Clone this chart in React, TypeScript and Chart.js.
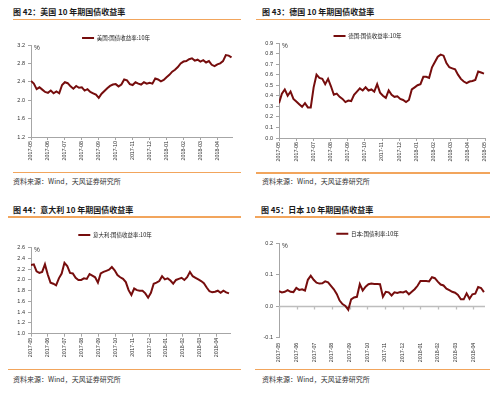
import React, { useEffect, useRef } from 'react';
import { Chart, registerables } from 'chart.js';

Chart.register(...registerables);

// ---------- DATA ----------
const MONTHS = [
  '2017-05', '2017-06', '2017-07', '2017-08', '2017-09', '2017-10', '2017-11',
  '2017-12', '2018-01', '2018-02', '2018-03', '2018-04', '2018-05',
];

// US 10Y treasury yield (%), sampled evenly from 2017-05 to late 2018-04
const US_YIELD = [
  2.42, 2.36, 2.24, 2.28, 2.23, 2.18, 2.16, 2.21, 2.15, 2.19,
  2.15, 2.33, 2.39, 2.37, 2.30, 2.25, 2.31, 2.27, 2.28, 2.21,
  2.24, 2.18, 2.15, 2.12, 2.05, 2.14, 2.20, 2.26, 2.31, 2.34,
  2.35, 2.30, 2.34, 2.45, 2.43, 2.35, 2.33, 2.39, 2.36, 2.34,
  2.39, 2.36, 2.38, 2.36, 2.47, 2.45, 2.41, 2.44, 2.50, 2.55,
  2.62, 2.66, 2.72, 2.80, 2.84, 2.85, 2.89, 2.91, 2.86, 2.88,
  2.84, 2.87, 2.82, 2.85, 2.77, 2.74, 2.78, 2.80, 2.85, 2.98,
  2.97, 2.93,
];

// Germany 10Y bund yield (%)
const DE_YIELD = [
  0.33, 0.42, 0.46, 0.40, 0.44, 0.37, 0.345, 0.32, 0.295, 0.33,
  0.29, 0.29, 0.48, 0.60, 0.57, 0.56, 0.51, 0.56, 0.49, 0.41,
  0.42, 0.39, 0.37, 0.34, 0.355, 0.35, 0.41, 0.44, 0.47, 0.45,
  0.48, 0.45, 0.46, 0.44, 0.51, 0.43, 0.40, 0.38, 0.45, 0.41,
  0.39, 0.395, 0.37, 0.36, 0.34, 0.36, 0.46, 0.48, 0.50, 0.51,
  0.58, 0.58, 0.57, 0.67, 0.72, 0.77, 0.79, 0.78, 0.71, 0.67,
  0.66, 0.65, 0.60, 0.56, 0.535, 0.52, 0.535, 0.54, 0.55, 0.63,
  0.62, 0.61,
];

// Italy 10Y BTP yield (%)
const IT_YIELD = [
  2.28, 2.29, 2.16, 2.13, 2.15, 2.29, 2.10, 1.95, 1.93, 1.90,
  2.03, 2.12, 2.32, 2.26, 2.13, 2.12, 2.04, 2.00, 2.00, 2.03,
  2.02, 2.11, 2.08, 2.05, 1.95, 2.12, 2.15, 2.17, 2.19, 2.24,
  2.18, 2.09, 2.05, 2.02, 1.96, 1.81, 1.72, 1.84, 1.81, 1.80,
  1.80, 1.75, 1.67, 1.76, 1.93, 1.95, 1.98, 2.07, 2.01, 2.03,
  1.99, 1.93, 2.00, 2.02, 2.04, 2.00, 2.05, 2.15, 2.07, 2.04,
  2.01, 1.98, 1.94, 1.86, 1.79, 1.77, 1.78, 1.80, 1.76, 1.80,
  1.77, 1.75,
];

// Japan 10Y JGB yield (%)
const JP_YIELD = [
  0.048, 0.044, 0.046, 0.051, 0.046, 0.045, 0.058, 0.052, 0.054, 0.050,
  0.084, 0.097, 0.084, 0.075, 0.072, 0.073, 0.079, 0.076, 0.065, 0.054,
  0.039, 0.018, 0.007, 0.001, -0.011, 0.022, 0.028, 0.030, 0.070, 0.050,
  0.062, 0.070, 0.072, 0.071, 0.071, 0.070, 0.030, 0.046, 0.044, 0.034,
  0.044, 0.042, 0.045, 0.044, 0.048, 0.038, 0.046, 0.054, 0.065, 0.080,
  0.080, 0.080, 0.079, 0.092, 0.089, 0.078, 0.069, 0.066, 0.056, 0.051,
  0.046, 0.043, 0.036, 0.022, 0.022, 0.041, 0.024, 0.038, 0.040, 0.061,
  0.058, 0.045,
];

// last observation, in months after 2017-05 (month index on the x axis)
const US_LAST_MONTH = 11.83;
const DE_LAST_MONTH = 11.94;
const IT_LAST_MONTH = 11.73;
const JP_LAST_MONTH = 11.6;

const TITLES = [
  '图 42：美国 10 年期国债收益率',
  '图 43：德国 10 年期国债收益率',
  '图 44：意大利 10 年期国债收益率',
  '图 45：日本 10 年期国债收益率',
];
const LEGENDS = [
  '美国:国债收益率:10年',
  '德国:国债收益率:10年',
  '意大利:国债收益率:10年',
  '日本:国债利率:10年',
];
const SOURCE = '资料来源：Wind，天风证券研究所';

// ---------- STYLE ----------
const LINE_COLOR = '#760d0d';
const AXIS_COLOR = '#a6a6a6';
const TEXT_COLOR = '#333333';
const ORANGE = '#f2a55c';
const FONT = '"Liberation Sans", "Noto Sans CJK SC", sans-serif';
const CJK_FONT = '"Noto Sans CJK SC", "Liberation Sans", sans-serif';
const CANVAS_W = 250;
const CANVAS_H = 170;

type PanelCfg = {
  x: number; y: number;
  title: string; legend: string;
  values: number[]; lastMonth: number; xMax: number;
  yMin: number; yMax: number; yStep: number;
  left: number; right: number; top: number; bottom: number;
  legendCenter: number;
  titleX: number; titleY: number;
  lineX1: number; lineX2: number; lineTopY: number; lineBotY: number;
  srcX: number; srcY: number;
  zeroLine?: boolean;
};

const PANELS: PanelCfg[] = [
  {
    x: 0, y: 0, title: TITLES[0], legend: LEGENDS[0],
    values: US_YIELD, lastMonth: US_LAST_MONTH, xMax: 11.86,
    yMin: 1.2, yMax: 3.2, yStep: 0.2,
    left: 31, right: 232, top: 45, bottom: 137, legendCenter: 38,
    titleX: 13, titleY: 12, lineX1: 13, lineX2: 241, lineTopY: 19.5, lineBotY: 172.5,
    srcX: 13, srcY: 181,
  },
  {
    x: 250, y: 0, title: TITLES[1], legend: LEGENDS[1],
    values: DE_YIELD, lastMonth: DE_LAST_MONTH, xMax: 12,
    yMin: 0, yMax: 0.9, yStep: 0.1,
    left: 29, right: 235, top: 43, bottom: 138, legendCenter: 36,
    titleX: 12, titleY: 12, lineX1: 6, lineX2: 240, lineTopY: 19.5, lineBotY: 173,
    srcX: 12, srcY: 181,
  },
  {
    x: 0, y: 196, title: TITLES[2], legend: LEGENDS[2],
    values: IT_YIELD, lastMonth: IT_LAST_MONTH, xMax: 11.79,
    yMin: 1.0, yMax: 2.6, yStep: 0.2,
    left: 31, right: 230, top: 51.7, bottom: 137.7, legendCenter: 39,
    titleX: 13, titleY: 14, lineX1: 8, lineX2: 241, lineTopY: 21, lineBotY: 173.7,
    srcX: 13, srcY: 182.7,
  },
  {
    x: 250, y: 196, title: TITLES[3], legend: LEGENDS[3],
    values: JP_YIELD, lastMonth: JP_LAST_MONTH, xMax: 11.66,
    yMin: -0.1, yMax: 0.2, yStep: 0.1,
    left: 29, right: 235, top: 47.3, bottom: 141.7, legendCenter: 37.7,
    titleX: 11, titleY: 14, lineX1: 5, lineX2: 240, lineTopY: 21, lineBotY: 173.7,
    srcX: 12, srcY: 182.7, zeroLine: true,
  },
];

// ---------- PLUGINS ----------
const percentPlugin = {
  id: 'percentLabel',
  afterDraw(chart: any) {
    const { ctx, chartArea } = chart;
    ctx.save();
    ctx.font = `6.5px ${FONT}`;
    ctx.fillStyle = TEXT_COLOR;
    ctx.textBaseline = 'middle';
    ctx.textAlign = 'left';
    ctx.fillText('%', chartArea.left + 3, chartArea.top + 3);
    ctx.restore();
  },
};

const zeroLinePlugin = {
  id: 'zeroLine',
  beforeDatasetsDraw(chart: any) {
    const { ctx, chartArea, scales } = chart;
    const xs = scales.x;
    const y0 = Math.round(scales.y.getPixelForValue(0)) + 0.5;
    ctx.save();
    ctx.strokeStyle = '#bdbdbd';
    ctx.lineWidth = 1.3;
    ctx.beginPath();
    ctx.moveTo(chartArea.left, y0);
    ctx.lineTo(chartArea.right, y0);
    xs.ticks.forEach((t: any) => {
      const px = Math.round(xs.getPixelForValue(t.value)) + 0.5;
      ctx.moveTo(px, y0);
      ctx.lineTo(px, y0 + 3);
    });
    ctx.stroke();
    ctx.restore();
  },
};

// ---------- COMPONENTS ----------
function PanelChart({ cfg }: { cfg: PanelCfg }) {
  const ref = useRef<HTMLCanvasElement>(null);
  useEffect(() => {
    if (!ref.current) return;
    const n = cfg.values.length;
    const points = cfg.values.map((v, i) => ({ x: (i * cfg.lastMonth) / (n - 1), y: v }));
    const legendPad = 2;
    const legendFont = 5.5;
    const legendTop = cfg.legendCenter - legendPad - legendFont / 2;
    const chart = new Chart(ref.current, {
      type: 'line',
      data: {
        datasets: [
          {
            label: cfg.legend,
            data: points,
            borderColor: LINE_COLOR,
            backgroundColor: LINE_COLOR,
            borderWidth: 2,
            pointRadius: 0,
            tension: 0,
            fill: false,
          },
        ],
      },
      options: {
        animation: false,
        responsive: false,
        maintainAspectRatio: false,
        layout: {
          padding: { left: 0, right: CANVAS_W - cfg.right, top: legendTop, bottom: 0 },
        },
        plugins: {
          legend: {
            display: true,
            position: 'top',
            maxHeight: cfg.top - legendTop,
            labels: {
              usePointStyle: true,
              pointStyle: 'line',
              pointStyleWidth: 12,
              boxHeight: legendFont,
              padding: legendPad,
              color: '#222',
              font: { size: legendFont, family: CJK_FONT },
            },
          },
          tooltip: { enabled: false },
        },
        scales: {
          x: {
            type: 'linear',
            min: 0,
            max: cfg.xMax,
            afterFit: (s: any) => { s.height = CANVAS_H - cfg.bottom; },
            ticks: {
              stepSize: 1,
              includeBounds: false,
              autoSkip: false,
              maxRotation: 90,
              minRotation: 90,
              padding: cfg.zeroLine ? 2 : 1,
              color: TEXT_COLOR,
              font: { size: 5.3, family: FONT },
              callback: (v: any) => (Number.isInteger(v) ? MONTHS[v] ?? '' : ''),
            },
            grid: {
              display: !cfg.zeroLine,
              drawOnChartArea: false,
              drawTicks: true,
              tickLength: 3,
              color: AXIS_COLOR,
            },
            border: { display: !cfg.zeroLine, color: AXIS_COLOR },
          },
          y: {
            min: cfg.yMin,
            max: cfg.yMax,
            afterFit: (s: any) => { s.width = cfg.left; },
            ticks: {
              stepSize: cfg.yStep,
              padding: 3,
              color: TEXT_COLOR,
              font: { size: 5.5, family: FONT },
              callback: (v: any) => (Math.abs(v) < 1e-9 ? '0.0' : Number(v).toFixed(1)),
            },
            grid: {
              drawOnChartArea: false,
              drawTicks: true,
              tickLength: 3,
              color: AXIS_COLOR,
            },
            border: { display: true, color: AXIS_COLOR },
          },
        },
      } as any,
      plugins: cfg.zeroLine ? [percentPlugin, zeroLinePlugin] : [percentPlugin],
    });
    return () => chart.destroy();
  }, [cfg]);
  return (
    <canvas
      ref={ref}
      width={CANVAS_W}
      height={CANVAS_H}
      style={{ position: 'absolute', left: 0, top: 0, width: CANVAS_W, height: CANVAS_H }}
    />
  );
}

function Panel({ cfg }: { cfg: PanelCfg }) {
  return (
    <div style={{ position: 'absolute', left: cfg.x, top: cfg.y, width: 250, height: 196 }}>
      <div
        style={{
          position: 'absolute', left: cfg.titleX, top: cfg.titleY - 6, height: 12, lineHeight: '12px',
          fontFamily: CJK_FONT, fontWeight: 700, fontSize: 8, color: '#1a1a1a', whiteSpace: 'nowrap',
        }}
      >
        {cfg.title}
      </div>
      <div
        style={{
          position: 'absolute', left: cfg.lineX1, top: cfg.lineTopY - 0.75, width: cfg.lineX2 - cfg.lineX1,
          height: 1.5, background: ORANGE,
        }}
      />
      <PanelChart cfg={cfg} />
      <div
        style={{
          position: 'absolute', left: cfg.lineX1, top: cfg.lineBotY - 0.75, width: cfg.lineX2 - cfg.lineX1,
          height: 1.5, background: ORANGE,
        }}
      />
      <div
        style={{
          position: 'absolute', left: cfg.srcX, top: cfg.srcY - 5, height: 10, lineHeight: '10px',
          fontFamily: CJK_FONT, fontSize: 7, color: '#333', whiteSpace: 'nowrap',
        }}
      >
        {SOURCE}
      </div>
    </div>
  );
}

export default function App() {
  return (
    <div
      style={{
        position: 'absolute', left: 0, top: 0, width: 500, height: 393, background: '#ffffff', overflow: 'hidden',
      }}
    >
      {PANELS.map((p, i) => (
        <Panel key={i} cfg={p} />
      ))}
    </div>
  );
}
